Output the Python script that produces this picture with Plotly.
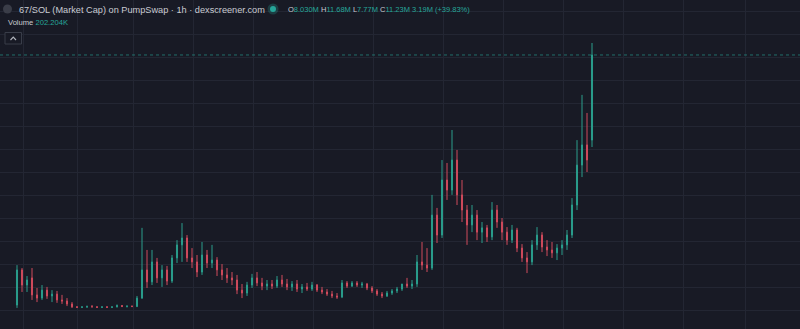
import plotly.graph_objects as go

# ---- data (market cap, millions USD), one candle per hour-bucket ----
opens = [1.83, 3.15, 2.58, 2.85, 2.21, 2.09, 2.39, 2.17, 2.24, 2.02,
         1.98, 1.87, 1.76, 1.74, 1.76, 1.77, 1.76, 1.74, 1.76, 1.74,
         1.76, 1.81, 1.77, 1.79, 1.77, 2.09, 3.15, 2.70, 3.45, 2.85,
         3.15, 2.73, 3.60, 4.09, 4.35, 3.60, 3.45, 3.07, 3.71, 3.41,
         3.52, 3.15, 2.96, 2.85, 2.77, 2.39, 2.28, 2.58, 2.85, 2.66,
         2.54, 2.62, 2.54, 2.77, 2.62, 2.51, 2.62, 2.43, 2.51, 2.43,
         2.58, 2.39, 2.32, 2.24, 2.17, 2.13, 2.66, 2.54, 2.66, 2.58,
         2.62, 2.47, 2.36, 2.24, 2.17, 2.28, 2.36, 2.43, 2.62, 2.54,
         2.62, 3.45, 3.33, 3.22, 5.21, 4.46, 6.53, 6.15, 7.28, 5.97,
         5.40, 4.84, 5.21, 4.57, 4.73, 4.39, 5.40, 4.95, 4.57, 4.27,
         4.65, 3.97, 3.60, 3.45, 4.09, 4.46, 4.01, 3.90, 3.79, 3.97,
         4.09, 4.46, 5.59, 7.09, 7.85, 8.03]
highs = [3.33, 3.22, 2.92, 3.22, 2.47, 2.58, 2.51, 2.39, 2.36, 2.21,
         2.09, 1.94, 1.79, 1.77, 1.81, 1.83, 1.79, 1.77, 1.79, 1.77,
         1.85, 1.83, 1.81, 1.81, 2.17, 4.73, 3.90, 3.90, 3.60, 3.33,
         3.30, 3.71, 4.27, 4.91, 4.46, 3.97, 3.71, 4.20, 3.90, 4.09,
         3.63, 3.37, 3.22, 3.07, 2.96, 2.62, 2.70, 3.00, 3.07, 2.85,
         2.77, 2.77, 2.92, 2.96, 2.81, 2.73, 2.77, 2.62, 2.66, 2.70,
         2.62, 2.51, 2.43, 2.36, 2.28, 2.77, 2.73, 2.73, 2.73, 2.70,
         2.66, 2.54, 2.43, 2.32, 2.36, 2.43, 2.51, 2.62, 2.85, 2.77,
         3.71, 4.20, 3.97, 5.97, 5.48, 7.28, 7.17, 8.41, 7.66, 6.53,
         5.59, 5.59, 5.40, 4.95, 4.84, 5.70, 5.59, 5.10, 4.76, 4.84,
         4.73, 4.12, 3.82, 4.27, 4.76, 4.57, 4.27, 4.20, 4.12, 4.27,
         4.65, 5.85, 8.03, 9.73, 9.05, 11.68]
lows = [1.72, 2.32, 2.32, 2.02, 1.94, 2.02, 2.06, 1.94, 1.91, 1.87,
        1.79, 1.72, 1.72, 1.72, 1.72, 1.74, 1.72, 1.72, 1.72, 1.72,
        1.74, 1.76, 1.74, 1.76, 1.76, 2.06, 2.47, 2.58, 2.66, 2.51,
        2.58, 2.66, 3.41, 3.45, 3.45, 3.22, 2.88, 2.96, 3.22, 3.22,
        2.92, 2.77, 2.66, 2.58, 2.24, 2.09, 2.17, 2.47, 2.54, 2.39,
        2.39, 2.43, 2.47, 2.51, 2.39, 2.36, 2.32, 2.28, 2.36, 2.36,
        2.32, 2.24, 2.17, 2.09, 2.06, 2.09, 2.47, 2.51, 2.51, 2.47,
        2.39, 2.28, 2.17, 2.09, 2.13, 2.21, 2.28, 2.36, 2.47, 2.43,
        2.51, 3.15, 3.07, 3.15, 4.16, 4.35, 5.78, 5.97, 5.59, 4.95,
        4.09, 4.57, 4.27, 4.16, 4.20, 4.27, 4.73, 4.27, 4.09, 4.16,
        3.82, 3.45, 3.03, 3.33, 3.90, 3.82, 3.67, 3.60, 3.52, 3.71,
        3.90, 4.35, 5.40, 6.64, 6.83, 7.77]
closes = [3.15, 2.58, 2.77, 2.21, 2.09, 2.39, 2.17, 2.24, 2.02, 1.98,
          1.87, 1.76, 1.74, 1.76, 1.77, 1.76, 1.74, 1.76, 1.74, 1.76,
          1.81, 1.77, 1.79, 1.77, 2.09, 3.15, 2.70, 3.45, 2.85, 3.15,
          2.73, 3.60, 4.09, 4.35, 3.60, 3.45, 3.07, 3.71, 3.41, 3.52,
          3.15, 2.96, 2.85, 2.77, 2.39, 2.28, 2.58, 2.85, 2.66, 2.54,
          2.62, 2.54, 2.77, 2.62, 2.51, 2.62, 2.43, 2.51, 2.43, 2.58,
          2.39, 2.32, 2.24, 2.17, 2.13, 2.66, 2.54, 2.66, 2.58, 2.62,
          2.47, 2.36, 2.24, 2.17, 2.28, 2.36, 2.43, 2.62, 2.54, 2.62,
          3.45, 3.33, 3.22, 5.21, 4.46, 6.53, 6.15, 7.28, 5.97, 5.40,
          4.84, 5.21, 4.57, 4.73, 4.39, 5.40, 4.95, 4.57, 4.27, 4.65,
          3.97, 3.60, 3.45, 4.09, 4.46, 4.01, 3.90, 3.79, 3.97, 4.09,
          4.46, 5.59, 7.09, 7.85, 7.28, 11.23]
candle_idx = list(range(len(closes)))

title_text = "67/SOL (Market Cap) on PumpSwap · 1h · dexscreener.com"
ohlc_labels = ["O", "H", "L", "C"]
ohlc_values = ["8.030M", "11.68M", "7.77M", "11.23M"]
change_text = "3.19M (+39.83%)"
volume_label = "Volume"
volume_value = "202.204K"

# vertical time grid (candle-index units)
grid_x = [1.2, 12, 23.2, 35.2, 47.2, 59.2, 71.2, 85.2, 97.2, 109.2, 121.2, 133.2, 145.6]

# ---- style ----
W, H = 800, 329
BG = "#181a25"
GRID = "#232633"
UP = "#2a9d8c"
DOWN = "#cf4b5c"
TXT_UP = "#26a69a"
TXT = "#c9cbd1"
FONT = "Liberation Sans, Arial, sans-serif"

fig = go.Figure()
fig.add_trace(go.Candlestick(
    x=candle_idx, open=opens, high=highs, low=lows, close=closes,
    increasing=dict(line=dict(color=UP, width=1), fillcolor=UP),
    decreasing=dict(line=dict(color=DOWN, width=1), fillcolor=DOWN),
    whiskerwidth=0, hoverinfo="skip", showlegend=False,
))

def px(x):
    return x / W

def py(y):
    return 1 - y / H

shapes = []
# last price dotted line
shapes.append(dict(type="line", xref="paper", yref="y", x0=0, x1=1,
                   y0=closes[-1], y1=closes[-1],
                   line=dict(color=TXT_UP, width=1, dash="dot"), opacity=0.6))
# symbol icon
shapes.append(dict(type="circle", xref="paper", yref="paper",
                   x0=px(3), x1=px(12), y0=py(13.5), y1=py(4.5),
                   fillcolor="#3a3d48", line=dict(width=0)))
# status dot with glow
shapes.append(dict(type="circle", xref="paper", yref="paper",
                   x0=px(267.5), x1=px(278.5), y0=py(14.5), y1=py(3.5),
                   fillcolor="rgba(38,166,154,0.25)", line=dict(width=0)))
shapes.append(dict(type="circle", xref="paper", yref="paper",
                   x0=px(270), x1=px(276), y0=py(12), y1=py(6),
                   fillcolor=TXT_UP, line=dict(width=0)))
# collapse button
shapes.append(dict(type="rect", xref="paper", yref="paper",
                   x0=px(5), x1=px(21.5), y0=py(44), y1=py(32.5),
                   fillcolor=BG, line=dict(color="#393d49", width=1)))
shapes.append(dict(type="path", xref="paper", yref="paper",
                   path=f"M {px(10.5)},{py(40)} L {px(13.25)},{py(37.2)} L {px(16)},{py(40)}",
                   line=dict(color="#b0b3bb", width=1.2)))

annotations = [
    dict(x=px(17), y=py(9.5), xref="paper", yref="paper", text=title_text,
         showarrow=False, xanchor="left", yanchor="middle",
         font=dict(family=FONT, size=9.2, color=TXT)),
]
parts = []
for lab, val in zip(ohlc_labels, ohlc_values):
    parts.append(f"{lab}<span style='color:{TXT_UP}'>{val}</span>")
ohlc_html = " ".join(parts) + f" <span style='color:{TXT_UP}'>{change_text}</span>"
annotations.append(dict(x=px(286), y=py(9.5), xref="paper", yref="paper", text=ohlc_html,
                        showarrow=False, xanchor="left", yanchor="middle",
                        font=dict(family=FONT, size=7.5, color=TXT)))
annotations.append(dict(x=px(6), y=py(22.5), xref="paper", yref="paper",
                        text=f"{volume_label} <span style='color:{TXT_UP}'>{volume_value}</span>",
                        showarrow=False, xanchor="left", yanchor="middle",
                        font=dict(family=FONT, size=7.6, color=TXT)))

fig.update_layout(
    width=W, height=H, margin=dict(l=0, r=0, t=0, b=0),
    paper_bgcolor=BG, plot_bgcolor=BG,
    shapes=shapes, annotations=annotations,
    boxgap=0.7,
    xaxis=dict(range=[-3.4, 156.6], rangeslider=dict(visible=False),
               showticklabels=False, ticks="", tickmode="array", tickvals=grid_x,
               showgrid=True, gridcolor=GRID, gridwidth=1, zeroline=False,
               showline=False, fixedrange=True),
    yaxis=dict(range=[0.928, 13.297], showticklabels=False, ticks="",
               tick0=1.605, dtick=0.8647, showgrid=True, gridcolor=GRID, gridwidth=1,
               zeroline=False, showline=False, fixedrange=True),
    hovermode=False,
)

fig.write_html("out.html", config=dict(displayModeBar=False, staticPlot=True))
